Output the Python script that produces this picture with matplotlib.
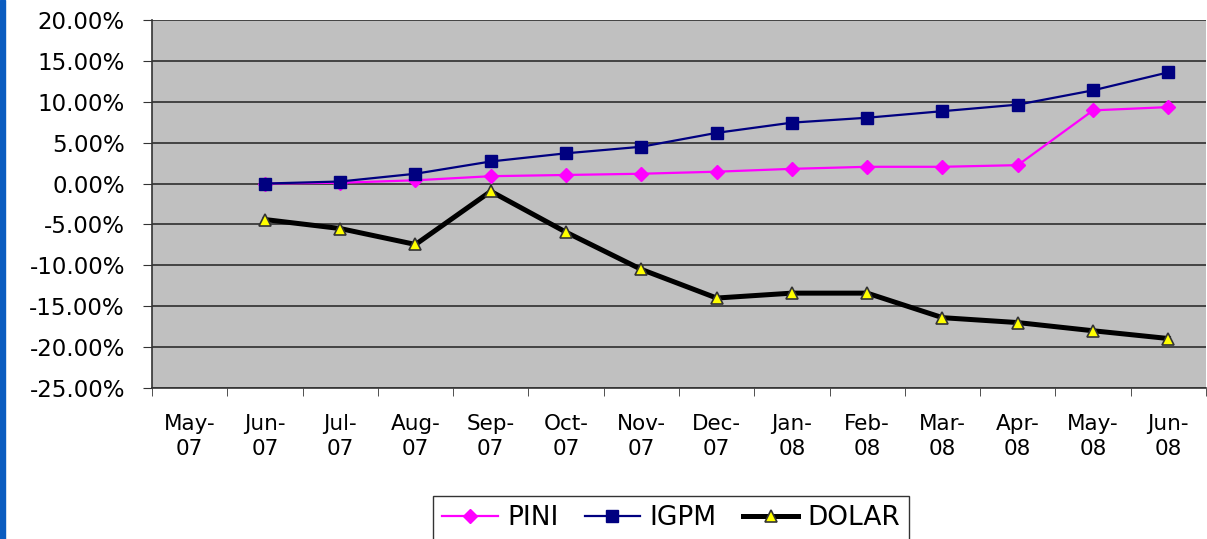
import numpy as np
import matplotlib
matplotlib.use('Agg')
import matplotlib.pyplot as plt
from matplotlib.patches import Rectangle

months = ["May-\n07", "Jun-\n07", "Jul-\n07", "Aug-\n07", "Sep-\n07", "Oct-\n07", "Nov-\n07",
          "Dec-\n07", "Jan-\n08", "Feb-\n08", "Mar-\n08", "Apr-\n08", "May-\n08", "Jun-\n08"]

# values in percent, series start at Jun-07
pini = [0.0, 0.1, 0.4, 0.9, 1.05, 1.2, 1.45, 1.8, 2.05, 2.05, 2.25, 8.95, 9.35]
igpm = [0.0, 0.25, 1.2, 2.7, 3.7, 4.5, 6.2, 7.45, 8.05, 8.85, 9.65, 11.4, 13.6]
dolar = [-4.4, -5.5, -7.45, -0.95, -5.95, -10.5, -14.0, -13.4, -13.4, -16.4, -17.0, -18.0, -18.95]

plt.rcParams['font.family'] = ['DejaVu Sans']

fig = plt.figure(figsize=(12.07, 5.39), dpi=100)
fig.patches.append(Rectangle((0, 0), 5 / 1207, 1, transform=fig.transFigure,
                             color='#0A5CC0', zorder=0))
ax = fig.add_axes([152 / 1207, 1 - 388 / 539, 1054 / 1207, 368 / 539])
ax.set_facecolor('#C0C0C0')

x = np.arange(1, len(months))
ax.plot(x, pini, color='#FF00FF', lw=1.6, marker='D', ms=7.5, mec='#FF00FF', label='PINI', zorder=3)
ax.plot(x, igpm, color='#000080', lw=1.6, marker='s', ms=8, mec='#000080', label='IGPM', zorder=3)
ax.plot(x, dolar, color='black', lw=3.6, marker='^', ms=9, mfc='#FFFF00', mec='#333333',
        mew=1.2, label='DOLAR', zorder=4)

ax.set_xlim(-0.5, len(months) - 0.5)
ax.set_ylim(-25, 20)
ax.set_yticks(np.arange(-25, 21, 5))
ax.set_yticklabels(['%.2f%%' % v for v in np.arange(-25, 21, 5)], fontsize=16.5)
ax.yaxis.grid(True, color='#222222', lw=1.1)
ax.set_axisbelow(True)

ax.set_xticks(np.arange(len(months)))
ax.set_xticklabels(months, fontsize=15.5, linespacing=1.3)
ax.set_xticks(np.arange(-0.5, len(months), 1), minor=True)
ax.tick_params(axis='x', which='major', length=0, pad=19)
ax.tick_params(axis='x', which='minor', length=6, color='#333333')
ax.tick_params(axis='y', length=6.5, pad=13, color='#333333')

for s in ['top', 'right']:
    ax.spines[s].set_visible(False)
for s in ['left', 'bottom']:
    ax.spines[s].set_color('#333333')
    ax.spines[s].set_linewidth(1.2)

leg = fig.legend(loc='upper left', bbox_to_anchor=(433 / 1207, 1 - 496 / 539), ncol=3,
                 fontsize=19, frameon=True, fancybox=False, edgecolor='black',
                 handlelength=2.1, handletextpad=0.35, columnspacing=1.0,
                 borderpad=0.35, borderaxespad=0)
leg.get_frame().set_linewidth(1.0)

fig.savefig('out.png', dpi=100, facecolor='white')
